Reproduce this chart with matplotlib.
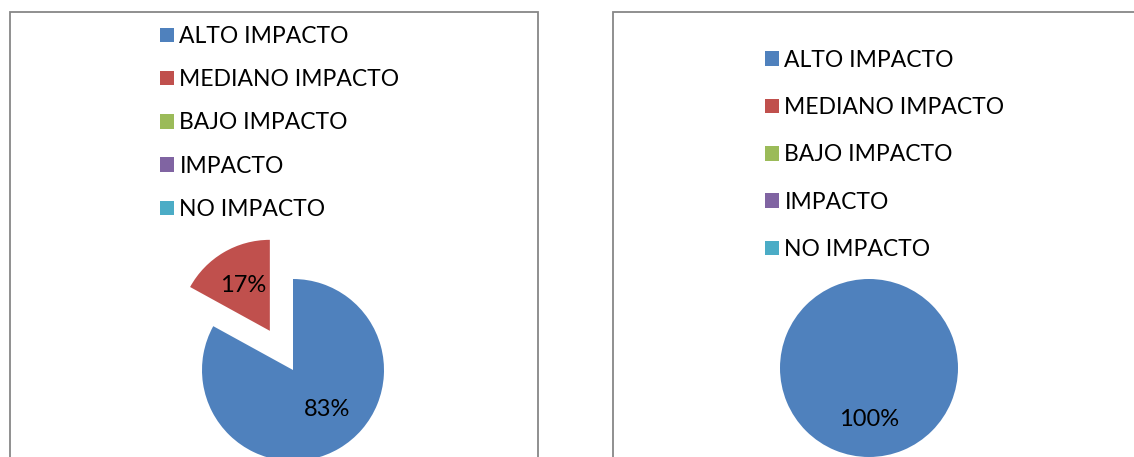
import matplotlib
matplotlib.use("Agg")
import matplotlib.pyplot as plt
from matplotlib.patches import Rectangle, Patch

plt.rcParams["font.family"] = ["Lato", "DejaVu Sans"]

categories = ["ALTO IMPACTO", "MEDIANO IMPACTO", "BAJO IMPACTO", "IMPACTO", "NO IMPACTO"]
colors = ["#4F81BD", "#C0504D", "#9BBB59", "#8064A2", "#4BACC6"]
left_values = [83, 17, 0, 0, 0]
left_explode = [0, 0.5, 0, 0, 0]
right_values = [100, 0, 0, 0, 0]
right_explode = [0, 0, 0, 0, 0]

W, H = 1134, 457
fig = plt.figure(figsize=(W / 100, H / 100), dpi=100)


def px_box(x0, y0, x1, y1):
    # pixel box (from top-left) -> figure fraction [l, b, w, h]
    return [x0 / W, 1 - y1 / H, (x1 - x0) / W, (y1 - y0) / H]


# panel borders (cut off at bottom / right like the screenshot)
for x0, y0, x1, y1 in [(10, 12, 538, 470), (613, 12, 1150, 470)]:
    l, b, w, h = px_box(x0, y0, x1, y1)
    fig.patches.append(Rectangle((l, b), w, h, transform=fig.transFigure,
                                 fill=False, edgecolor="#878787", linewidth=1.3))


def pct(v):
    return "" if v < 0.5 else "%d%%" % round(v)


def draw_pie(cx, cy, r, values, explode, pctdist):
    span = 1.7
    s = r * span
    ax = fig.add_axes(px_box(cx - s, cy - s, cx + s, cy + s))
    wedges, texts, autotexts = ax.pie(values, colors=colors, explode=explode,
                                      startangle=90, counterclock=False,
                                      autopct=pct, pctdistance=pctdist,
                                      wedgeprops=dict(linewidth=0))
    for t in autotexts:
        t.set_fontsize(17)
        t.set_color("black")
    ax.set_xlim(-span, span)
    ax.set_ylim(-span, span)
    ax.axis("off")
    return autotexts


left_labels = draw_pie(293, 370, 91, left_values, left_explode, 0.58)
draw_pie(869, 368, 89, right_values, right_explode, 0.58)
# excel's "best fit" puts the 83% label a bit further right
x, y = left_labels[0].get_position()
left_labels[0].set_position((x + 0.08, y + 0.06))

handles = [Patch(facecolor=c, edgecolor="none") for c in colors]
for x, yc, spacing in [(160, 123, 0.97), (765, 155, 1.15)]:
    fig.legend(handles, categories, loc="center left",
               bbox_to_anchor=(x / W, 1 - yc / H), frameon=False,
               fontsize=16.5, handlelength=0.6, handleheight=0.6,
               handletextpad=0.25, labelspacing=spacing,
               borderpad=0, borderaxespad=0)

fig.savefig("out.png", dpi=100)
